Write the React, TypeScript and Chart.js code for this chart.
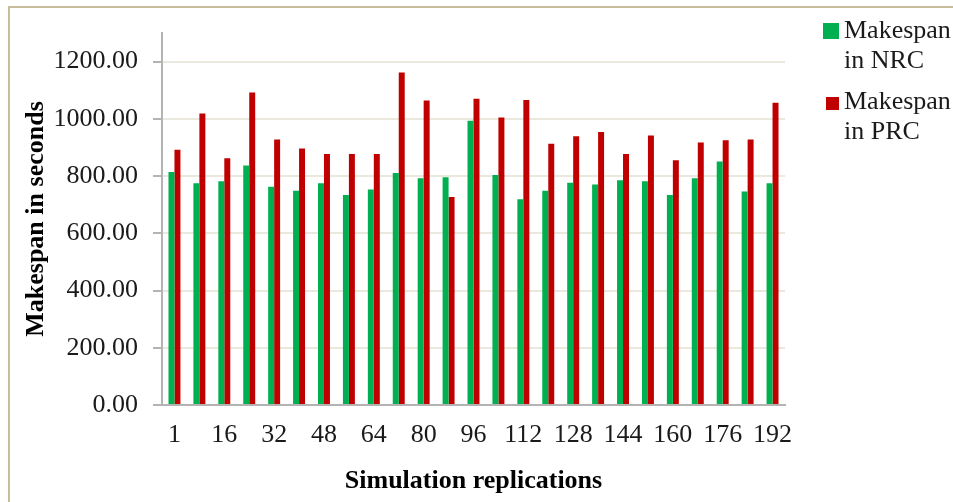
import React, { useEffect, useRef } from "react";
import { Chart, registerables } from "chart.js";

Chart.register(...registerables);

const categories = [
  "1", "8", "16", "24", "32", "40", "48", "56", "64", "72", "80", "88", "96",
  "104", "112", "120", "128", "136", "144", "152", "160", "168", "176", "184", "192",
];
const makespanNRC = [
  814, 775, 782, 837, 763, 749, 775, 734, 753, 811, 792, 796, 993,
  804, 719, 749, 777, 771, 785, 782, 734, 792, 851, 746, 775,
];
const makespanPRC = [
  892, 1019, 862, 1092, 928, 896, 877, 877, 877, 1162, 1064, 727, 1070,
  1005, 1066, 913, 939, 954, 877, 942, 855, 917, 925, 928, 1056,
];
const yTickValues = [0, 200, 400, 600, 800, 1000, 1200];
const seriesNames = ["Makespan in NRC", "Makespan in PRC"];
const legendLines = [["Makespan", "in NRC"], ["Makespan", "in PRC"]];
const colors = ["#00b050", "#c00000"];

const FONT = "'Liberation Serif', 'Times New Roman', serif";

export default function App() {
  const ref = useRef<HTMLCanvasElement | null>(null);

  useEffect(() => {
    if (!ref.current) return;
    const chart = new Chart(ref.current, {
      type: "bar",
      data: {
        labels: categories,
        datasets: [
          {
            label: seriesNames[0],
            data: makespanNRC,
            backgroundColor: colors[0],
            categoryPercentage: 0.48,
            barPercentage: 1,
          },
          {
            label: seriesNames[1],
            data: makespanPRC,
            backgroundColor: colors[1],
            categoryPercentage: 0.48,
            barPercentage: 1,
          },
        ],
      },
      options: {
        animation: false,
        responsive: false,
        maintainAspectRatio: false,
        layout: { padding: { left: 0, right: 168, top: 33, bottom: 0 } },
        plugins: {
          legend: { display: false },
          tooltip: { enabled: false },
        },
        scales: {
          x: {
            grid: { display: false, drawTicks: false },
            border: { display: true, color: "#b3b3b3", width: 2 },
            ticks: {
              autoSkip: false,
              maxRotation: 0,
              padding: 15,
              color: "#1a1a1a",
              font: { family: FONT, size: 26 },
              callback: (_v: any, i: number) => (i % 2 === 0 ? categories[i] : ""),
            },
            title: {
              display: true,
              text: "Simulation replications",
              color: "#000",
              font: { family: FONT, size: 26, weight: "bold" },
              padding: { top: 0, bottom: 5 },
            },
            afterFit: (s: any) => {
              s.height = 97;
            },
          },
          y: {
            min: 0,
            max: 1300,
            grid: {
              color: "#ebe8de",
              lineWidth: 2,
              tickColor: "#b3b3b3",
              tickLength: 9,
            },
            border: { display: true, color: "#b3b3b3", width: 2 },
            afterBuildTicks: (s: any) => {
              s.ticks = yTickValues.map((v) => ({ value: v }));
            },
            ticks: {
              padding: 15,
              color: "#1a1a1a",
              font: { family: FONT, size: 26 },
              callback: (v: any) => Number(v).toFixed(2),
            },
            title: {
              display: true,
              text: "Makespan in seconds",
              color: "#000",
              font: { family: FONT, size: 26, weight: "bold" },
              padding: { top: 21, bottom: 0 },
            },
            afterFit: (s: any) => {
              s.width = 162;
            },
          },
        },
      },
    });
    return () => chart.destroy();
  }, []);

  const legendTops = [14.5, 86.2];
  const boxes = [
    { left: 823, top: 23, size: 16 },
    { left: 826, top: 97, size: 13 },
  ];

  return (
    <div>
      <div
        style={{
          position: "fixed",
          left: 8,
          top: 6,
          width: 1000,
          height: 600,
          border: "2px solid #c8bd9a",
          boxSizing: "border-box",
        }}
      />
      <canvas
        ref={ref}
        width={953}
        height={502}
        style={{ position: "fixed", left: 0, top: 0, width: 953, height: 502 }}
      />
      {legendLines.map((lines, i) => (
        <React.Fragment key={i}>
          <div
            style={{
              position: "fixed",
              left: boxes[i].left,
              top: boxes[i].top,
              width: boxes[i].size,
              height: boxes[i].size,
              background: colors[i],
            }}
          />
          <div
            style={{
              position: "fixed",
              left: 844,
              top: legendTops[i],
              fontFamily: FONT,
              fontSize: 26,
              lineHeight: "30px",
              color: "#1a1a1a",
              whiteSpace: "nowrap",
            }}
          >
            {lines.map((l, j) => (
              <div key={j}>{l}</div>
            ))}
          </div>
        </React.Fragment>
      ))}
    </div>
  );
}
